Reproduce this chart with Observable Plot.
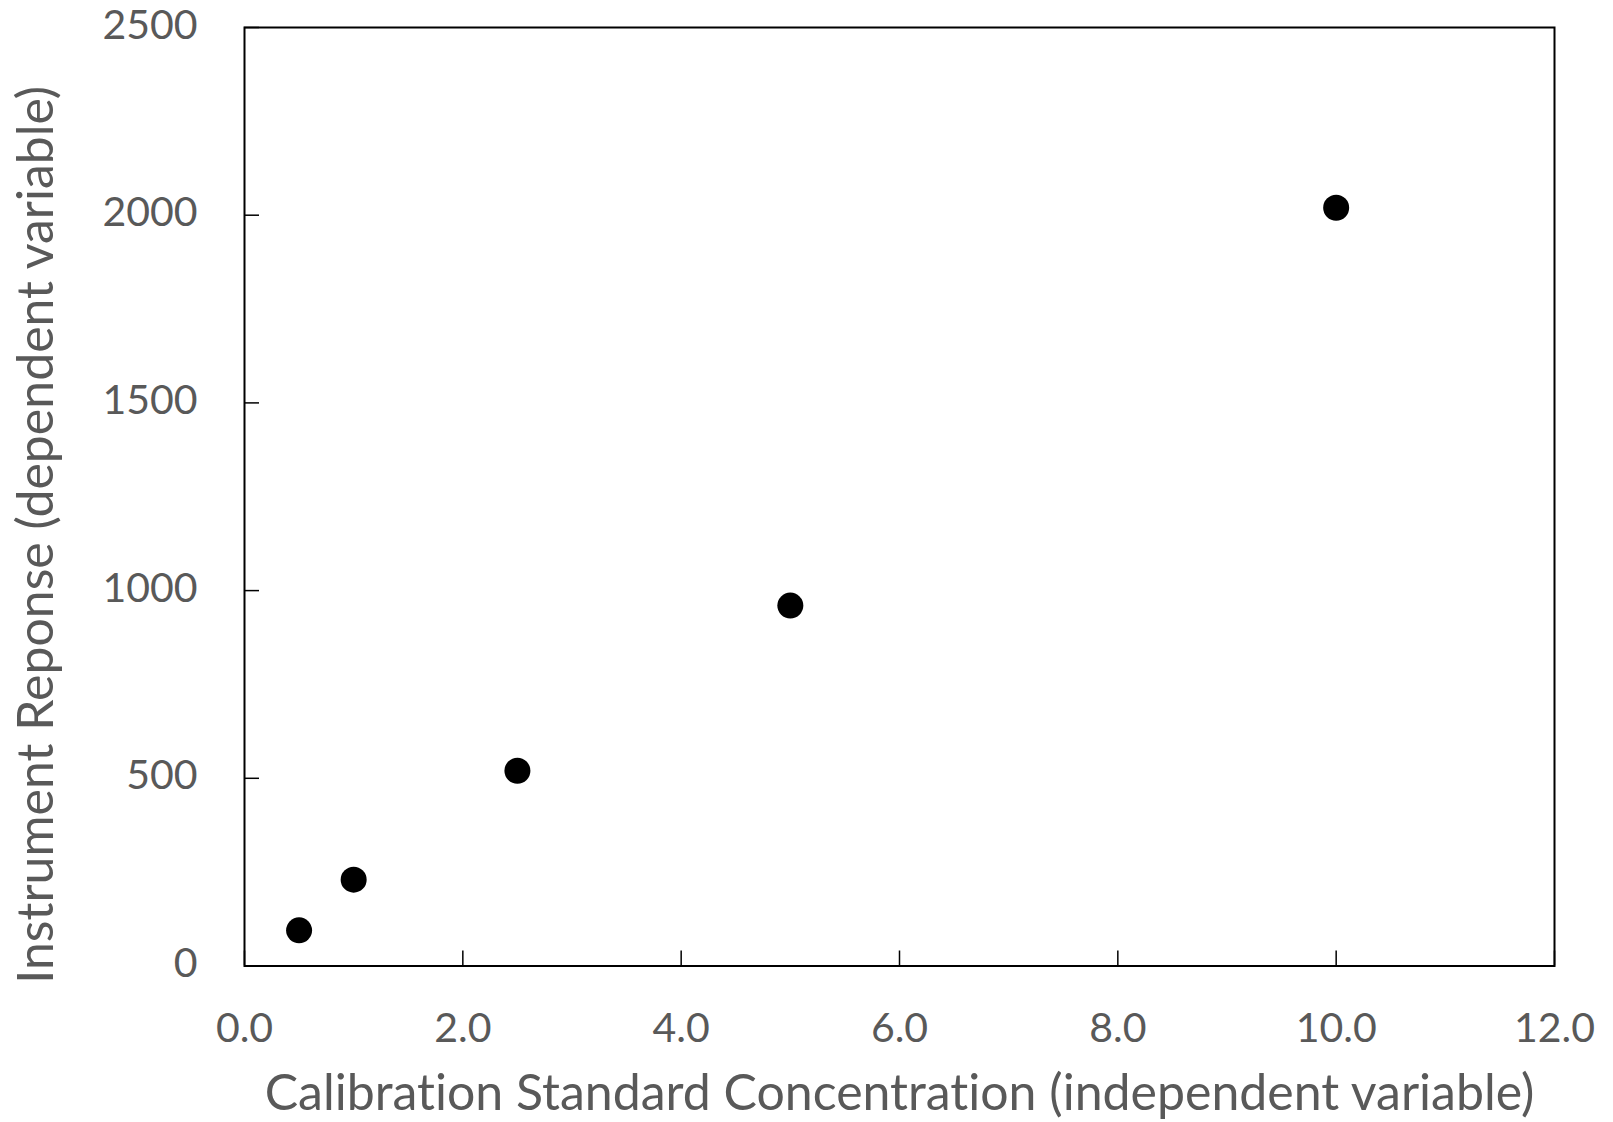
<!DOCTYPE html>
<html>
<head>
<meta charset="utf-8">
<script src="https://cdn.jsdelivr.net/npm/d3@7"></script>
<script src="https://cdn.jsdelivr.net/npm/@observablehq/plot@0.6"></script>
<style>
  html, body { margin: 0; padding: 0; background: #fff; }
  #chart svg { display: block; font-variant-ligatures: none; }
</style>
</head>
<body>
<div id="chart"></div>
<script>
const concentration = [0.5, 1.0, 2.5, 5.0, 10.0];
const response = [95, 230, 520, 960, 2020];
const xTicks = [0, 2, 4, 6, 8, 10, 12];
const yTicks = [0, 500, 1000, 1500, 2000, 2500];
const xTitle = "Calibration Standard Concentration (independent variable)";
const yTitle = "Instrument Reponse (dependent variable)";

const data = concentration.map((c, i) => ({x: c, y: response[i]}));

const FONT = "Lato, 'Open Sans', sans-serif";
const TEXT_COLOR = "#595959";

const chart = Plot.plot({
  width: 1613,
  height: 1122,
  marginLeft: 244,
  marginRight: 59,
  marginTop: 27,
  marginBottom: 156.5,
  style: {fontFamily: FONT, fontSize: "41px", color: TEXT_COLOR, background: "#fff"},
  x: {domain: [0, 12], ticks: xTicks},
  y: {domain: [0, 2500], ticks: yTicks},
  marks: [
    Plot.axisX({
      ticks: xTicks, tickSize: -15, tickPadding: 61.5, stroke: "#000", strokeWidth: 1.5,
      tickFormat: d3.format(".1f"), fill: TEXT_COLOR, fontSize: 41, label: null
    }),
    Plot.axisY({
      ticks: yTicks, tickSize: -15, stroke: "#000", strokeWidth: 1.5,
      tickFormat: () => "", label: null
    }),
    Plot.axisY({
      ticks: yTicks, tickSize: 0, tickPadding: 47,
      tickFormat: d => String(d), fill: TEXT_COLOR, fontSize: 41, dy: -2, label: null
    }),
    Plot.frame({stroke: "#000", strokeWidth: 2}),
    Plot.dot(data, {x: "x", y: "y", r: 13, fill: "#000", stroke: null}),
    Plot.text([xTitle], {
      frameAnchor: "bottom", dy: 127.5, text: d => d, fill: TEXT_COLOR, fontSize: 50,
      lineAnchor: "middle", textAnchor: "middle"
    }),
    Plot.text([yTitle], {
      frameAnchor: "left", rotate: -90, dx: -208, dy: 38, text: d => d, fill: TEXT_COLOR, fontSize: 50,
      lineAnchor: "middle", textAnchor: "middle"
    })
  ]
});
document.getElementById("chart").appendChild(chart);
</script>
</body>
</html>
